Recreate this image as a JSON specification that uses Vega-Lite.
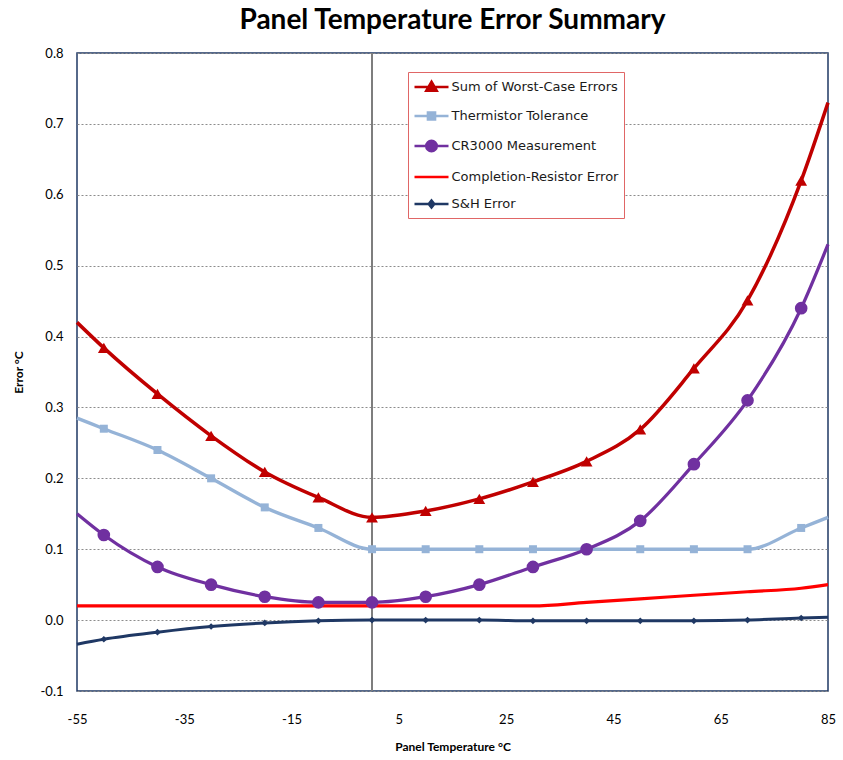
{
  "$schema": "https://vega.github.io/schema/vega-lite/v6.json",
  "width": 751,
  "height": 638,
  "autosize": "none",
  "padding": {"left": 77, "top": 53, "right": 15, "bottom": 69},
  "background": "white",
  "title": {"text": "Panel  Temperature Error Summary", "font": "Lato", "fontSize": 28, "fontWeight": "bold", "color": "#000000", "anchor": "middle", "offset": 12},
  "config": {"view": {"stroke": "#1F3864", "strokeWidth": 1.5}, "font": "Lato"},
  "datasets": {
    "d": [
      {"t": -55, "series": "Sum of Worst-Case Errors", "v": 0.42},
      {"t": -50, "series": "Sum of Worst-Case Errors", "v": 0.384},
      {"t": -40, "series": "Sum of Worst-Case Errors", "v": 0.319},
      {"t": -30, "series": "Sum of Worst-Case Errors", "v": 0.26},
      {"t": -20, "series": "Sum of Worst-Case Errors", "v": 0.209},
      {"t": -10, "series": "Sum of Worst-Case Errors", "v": 0.173},
      {"t": 0, "series": "Sum of Worst-Case Errors", "v": 0.145},
      {"t": 10, "series": "Sum of Worst-Case Errors", "v": 0.154},
      {"t": 20, "series": "Sum of Worst-Case Errors", "v": 0.171},
      {"t": 30, "series": "Sum of Worst-Case Errors", "v": 0.195},
      {"t": 40, "series": "Sum of Worst-Case Errors", "v": 0.224},
      {"t": 50, "series": "Sum of Worst-Case Errors", "v": 0.269},
      {"t": 60, "series": "Sum of Worst-Case Errors", "v": 0.355},
      {"t": 70, "series": "Sum of Worst-Case Errors", "v": 0.451},
      {"t": 80, "series": "Sum of Worst-Case Errors", "v": 0.62},
      {"t": 85, "series": "Sum of Worst-Case Errors", "v": 0.73},
      {"t": -55, "series": "Thermistor Tolerance", "v": 0.285},
      {"t": -50, "series": "Thermistor Tolerance", "v": 0.27},
      {"t": -40, "series": "Thermistor Tolerance", "v": 0.24},
      {"t": -30, "series": "Thermistor Tolerance", "v": 0.2},
      {"t": -20, "series": "Thermistor Tolerance", "v": 0.159},
      {"t": -10, "series": "Thermistor Tolerance", "v": 0.13},
      {"t": 0, "series": "Thermistor Tolerance", "v": 0.1},
      {"t": 10, "series": "Thermistor Tolerance", "v": 0.1},
      {"t": 20, "series": "Thermistor Tolerance", "v": 0.1},
      {"t": 30, "series": "Thermistor Tolerance", "v": 0.1},
      {"t": 40, "series": "Thermistor Tolerance", "v": 0.1},
      {"t": 50, "series": "Thermistor Tolerance", "v": 0.1},
      {"t": 60, "series": "Thermistor Tolerance", "v": 0.1},
      {"t": 70, "series": "Thermistor Tolerance", "v": 0.1},
      {"t": 80, "series": "Thermistor Tolerance", "v": 0.13},
      {"t": 85, "series": "Thermistor Tolerance", "v": 0.145},
      {"t": -55, "series": "CR3000 Measurement", "v": 0.15},
      {"t": -50, "series": "CR3000 Measurement", "v": 0.12},
      {"t": -40, "series": "CR3000 Measurement", "v": 0.075},
      {"t": -30, "series": "CR3000 Measurement", "v": 0.05},
      {"t": -20, "series": "CR3000 Measurement", "v": 0.033},
      {"t": -10, "series": "CR3000 Measurement", "v": 0.025},
      {"t": 0, "series": "CR3000 Measurement", "v": 0.025},
      {"t": 10, "series": "CR3000 Measurement", "v": 0.033},
      {"t": 20, "series": "CR3000 Measurement", "v": 0.05},
      {"t": 30, "series": "CR3000 Measurement", "v": 0.075},
      {"t": 40, "series": "CR3000 Measurement", "v": 0.1},
      {"t": 50, "series": "CR3000 Measurement", "v": 0.14},
      {"t": 60, "series": "CR3000 Measurement", "v": 0.22},
      {"t": 70, "series": "CR3000 Measurement", "v": 0.31},
      {"t": 80, "series": "CR3000 Measurement", "v": 0.44},
      {"t": 85, "series": "CR3000 Measurement", "v": 0.53},
      {"t": -55, "series": "Completion-Resistor Error", "v": 0.02},
      {"t": -50, "series": "Completion-Resistor Error", "v": 0.02},
      {"t": -40, "series": "Completion-Resistor Error", "v": 0.02},
      {"t": -30, "series": "Completion-Resistor Error", "v": 0.02},
      {"t": -20, "series": "Completion-Resistor Error", "v": 0.02},
      {"t": -10, "series": "Completion-Resistor Error", "v": 0.02},
      {"t": 0, "series": "Completion-Resistor Error", "v": 0.02},
      {"t": 10, "series": "Completion-Resistor Error", "v": 0.02},
      {"t": 20, "series": "Completion-Resistor Error", "v": 0.02},
      {"t": 30, "series": "Completion-Resistor Error", "v": 0.02},
      {"t": 40, "series": "Completion-Resistor Error", "v": 0.025},
      {"t": 50, "series": "Completion-Resistor Error", "v": 0.03},
      {"t": 60, "series": "Completion-Resistor Error", "v": 0.035},
      {"t": 70, "series": "Completion-Resistor Error", "v": 0.04},
      {"t": 80, "series": "Completion-Resistor Error", "v": 0.045},
      {"t": 85, "series": "Completion-Resistor Error", "v": 0.05},
      {"t": -55, "series": "S&H Error", "v": -0.034},
      {"t": -50, "series": "S&H Error", "v": -0.027},
      {"t": -40, "series": "S&H Error", "v": -0.017},
      {"t": -30, "series": "S&H Error", "v": -0.009},
      {"t": -20, "series": "S&H Error", "v": -0.004},
      {"t": -10, "series": "S&H Error", "v": -0.001},
      {"t": 0, "series": "S&H Error", "v": 0},
      {"t": 10, "series": "S&H Error", "v": 0},
      {"t": 20, "series": "S&H Error", "v": 0},
      {"t": 30, "series": "S&H Error", "v": -0.001},
      {"t": 40, "series": "S&H Error", "v": -0.001},
      {"t": 50, "series": "S&H Error", "v": -0.001},
      {"t": 60, "series": "S&H Error", "v": -0.001},
      {"t": 70, "series": "S&H Error", "v": 0},
      {"t": 80, "series": "S&H Error", "v": 0.003},
      {"t": 85, "series": "S&H Error", "v": 0.004}
    ]
  },
  "data": {"name": "d"},
  "layer": [
    {
      "mark": {"type": "rule", "color": "#7f7f7f", "strokeWidth": 1},
      "encoding": {"x": {"datum": 0, "type": "quantitative"}}
    },
    {
      "mark": {"type": "line", "interpolate": "monotone"},
      "encoding": {
        "x": {
          "field": "t", "type": "quantitative",
          "scale": {"domain": [-55, 85], "nice": false, "zero": false},
          "axis": {
            "values": [-55, -35, -15, 5, 25, 45, 65, 85],
            "labelExpr": "datum.value < 0 ? '-' + (-datum.value) : '' + datum.value",
            "title": "Panel Temperature °C",
            "titleFont": "Lato", "titleFontSize": 12, "titleFontWeight": "bold", "titleColor": "#000000",
            "titlePadding": 15,
            "labelFont": "Lato", "labelFontSize": 13, "labelColor": "#000000",
            "labelPadding": 22, "labelFlush": false, "labelOverlap": false,
            "ticks": false, "domain": false, "grid": false
          }
        },
        "y": {
          "field": "v", "type": "quantitative",
          "scale": {"domain": [-0.1, 0.8], "nice": false, "zero": false},
          "axis": {
            "values": [-0.1, 0, 0.1, 0.2, 0.3, 0.4, 0.5, 0.6, 0.7, 0.8],
            "labelExpr": "datum.value < 0 ? '-' + format(-datum.value, '.1f') : format(datum.value, '.1f')",
            "title": "Error °C",
            "titleFont": "Lato", "titleFontSize": 12, "titleFontWeight": "bold", "titleColor": "#000000",
            "titlePadding": 15,
            "labelFont": "Lato", "labelFontSize": 13, "labelColor": "#000000",
            "labelPadding": 14, "labelFlush": false, "labelOverlap": false,
            "ticks": false, "domain": false,
            "grid": true, "gridColor": "#8c8c8c", "gridDash": [2, 2], "gridWidth": 1
          }
        },
        "color": {
          "field": "series", "type": "nominal",
          "scale": {
            "domain": ["S&H Error", "Completion-Resistor Error", "CR3000 Measurement", "Thermistor Tolerance", "Sum of Worst-Case Errors"],
            "range": ["#1F3864", "#FF0000", "#7030A0", "#95B3D7", "#C00000"]
          },
          "legend": null
        },
        "strokeWidth": {
          "field": "series", "type": "nominal",
          "scale": {
            "domain": ["S&H Error", "Completion-Resistor Error", "CR3000 Measurement", "Thermistor Tolerance", "Sum of Worst-Case Errors"],
            "range": [3, 3.5, 3, 3, 3]
          },
          "legend": null
        }
      }
    },
    {
      "transform": [{"filter": "datum.series == 'Sum of Worst-Case Errors' && datum.t >= -50 && datum.t <= 80"}],
      "mark": {"type": "point", "shape": "triangle-up", "filled": true, "size": 140, "opacity": 1, "color": "#C00000"},
      "encoding": {"x": {"field": "t", "type": "quantitative"}, "y": {"field": "v", "type": "quantitative"}}
    },
    {
      "transform": [{"filter": "datum.series == 'Thermistor Tolerance' && datum.t >= -50 && datum.t <= 80"}],
      "mark": {"type": "point", "shape": "square", "filled": true, "size": 64, "opacity": 1, "color": "#95B3D7"},
      "encoding": {"x": {"field": "t", "type": "quantitative"}, "y": {"field": "v", "type": "quantitative"}}
    },
    {
      "transform": [{"filter": "datum.series == 'CR3000 Measurement' && datum.t >= -50 && datum.t <= 80"}],
      "mark": {"type": "point", "shape": "circle", "filled": true, "size": 160, "opacity": 1, "color": "#7030A0"},
      "encoding": {"x": {"field": "t", "type": "quantitative"}, "y": {"field": "v", "type": "quantitative"}}
    },
    {
      "transform": [{"filter": "datum.series == 'S&H Error' && datum.t >= -50 && datum.t <= 80"}],
      "mark": {"type": "point", "shape": "diamond", "filled": true, "size": 45, "opacity": 1, "color": "#1F3864"},
      "encoding": {"x": {"field": "t", "type": "quantitative"}, "y": {"field": "v", "type": "quantitative"}}
    },
    {
      "transform": [{"filter": "datum.t > 1000"}],
      "mark": {"type": "point", "filled": true, "size": 289, "opacity": 1, "strokeWidth": 2.5},
      "encoding": {
        "x": {"field": "t", "type": "quantitative"},
        "y": {"field": "v", "type": "quantitative"},
        "fill": {
          "field": "series", "type": "nominal",
          "scale": {
            "domain": ["Sum of Worst-Case Errors", "Thermistor Tolerance", "CR3000 Measurement", "Completion-Resistor Error", "S&H Error"],
            "range": ["#C00000", "#95B3D7", "#7030A0", "#FF0000", "#1F3864"]
          },
          "legend": {"orient": "none", "legendX": 331, "legendY": 19, "title": null, "fillColor": "white", "strokeColor": "#E06666", "padding": 5, "rowPadding": 10, "symbolOffset": 8.5, "labelOffset": 10, "labelFont": "DejaVu Sans", "labelFontSize": 13, "labelColor": "#1a1a1a", "symbolStrokeWidth": 2.5, "symbolSize": 289, "labelLimit": 400}
        },
        "stroke": {
          "field": "series", "type": "nominal",
          "scale": {
            "domain": ["Sum of Worst-Case Errors", "Thermistor Tolerance", "CR3000 Measurement", "Completion-Resistor Error", "S&H Error"],
            "range": ["#C00000", "#95B3D7", "#7030A0", "#FF0000", "#1F3864"]
          },
          "legend": {"orient": "none", "legendX": 331, "legendY": 19, "title": null, "fillColor": "white", "strokeColor": "#E06666", "padding": 5, "rowPadding": 10, "symbolOffset": 8.5, "labelOffset": 10, "labelFont": "DejaVu Sans", "labelFontSize": 13, "labelColor": "#1a1a1a", "symbolStrokeWidth": 2.5, "symbolSize": 289, "labelLimit": 400}
        },
        "shape": {
          "field": "series", "type": "nominal",
          "scale": {
            "domain": ["Sum of Worst-Case Errors", "Thermistor Tolerance", "CR3000 Measurement", "Completion-Resistor Error", "S&H Error"],
            "range": [
              "M-2,0L2,0M0,-0.62L0.62,0.45L-0.62,0.45Z",
              "M-2,0L2,0M-0.42,-0.42L0.42,-0.42L0.42,0.42L-0.42,0.42Z",
              "M-2,0L2,0M-0.62,0A0.62,0.62,0,1,0,0.62,0A0.62,0.62,0,1,0,-0.62,0Z",
              "M-2,0L2,0",
              "M-2,0L2,0M0,-0.42L0.33,0L0,0.42L-0.33,0Z"
            ]
          },
          "legend": {"orient": "none", "legendX": 331, "legendY": 19, "title": null, "fillColor": "white", "strokeColor": "#E06666", "padding": 5, "rowPadding": 10, "symbolOffset": 8.5, "labelOffset": 10, "labelFont": "DejaVu Sans", "labelFontSize": 13, "labelColor": "#1a1a1a", "symbolStrokeWidth": 2.5, "symbolSize": 289, "labelLimit": 400}
        }
      }
    }
  ]
}
